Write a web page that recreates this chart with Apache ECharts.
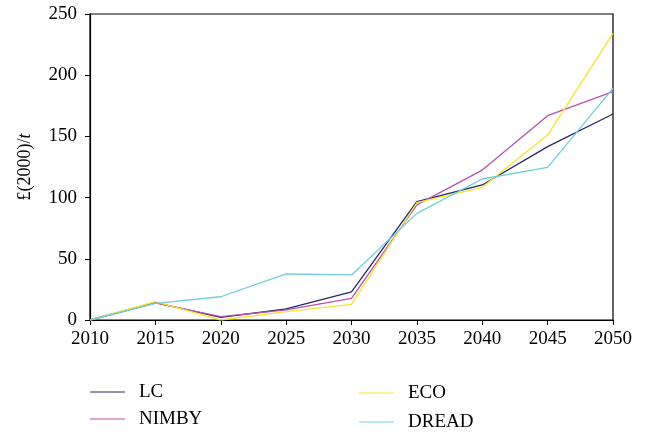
<!DOCTYPE html>
<html><head><meta charset="utf-8">
<script src="https://cdn.jsdelivr.net/npm/echarts@6/dist/echarts.min.js"></script>
<style>html,body{margin:0;padding:0;background:#fff}#c{width:647px;height:435px}</style>
</head><body><div id="c"></div>
<script>
var years = [2010, 2015, 2020, 2025, 2030, 2035, 2040, 2045, 2050];
var LC = [0, 14.2, 2.2, 9, 22.9, 96.7, 110.3, 141.6, 168.3];
var NIMBY = [0, 14, 2.7, 8.2, 17.7, 94, 122.5, 166.9, 186.5];
var ECO = [0, 15, 0, 6.8, 12.8, 95.8, 108.4, 151.1, 234.2];
var DREAD = [0, 13.6, 19, 37.6, 36.8, 87.1, 115.2, 124.7, 189.3];
var yTicks = [0, 50, 100, 150, 200, 250];
var xTicks = [2010, 2015, 2020, 2025, 2030, 2035, 2040, 2045, 2050];

function pairs(v){ return years.map(function(y,i){ return [y, v[i]]; }); }
var font = '"Liberation Serif", "DejaVu Serif", serif';
function ser(name, data, color){
  return {name:name, type:'line', data:pairs(data), symbol:'none',
    lineStyle:{color:color, width:1.3}, itemStyle:{color:color}};
}
var legText = {color:'#000', fontSize:19, lineHeight:20, fontFamily:font, padding:[0,0,0,9]};
var chart = echarts.init(document.getElementById('c'));
chart.setOption({
  animation:false,
  textStyle:{fontFamily:font},
  grid:{left:90, right:34, top:14, bottom:115, show:true, borderColor:'#000', borderWidth:1.2},
  xAxis:{type:'value', min:2010, max:2050, interval:5,
    axisLine:{lineStyle:{color:'#000', width:1.2}},
    axisTick:{show:true, length:5, lineStyle:{color:'#000'}},
    axisLabel:{color:'#000', fontSize:19, fontFamily:font, margin:10,
      formatter:function(v){ return xTicks.indexOf(v) >= 0 ? String(v) : ''; }},
    splitLine:{show:false}},
  yAxis:{type:'value', min:0, max:250, interval:50,
    name:'£(2000)/{i|t}', nameLocation:'middle', nameGap:56,
    nameTextStyle:{color:'#000', fontSize:18, fontFamily:font,
      rich:{i:{fontStyle:'italic', fontSize:18, fontFamily:font, color:'#000'}}},
    axisLine:{show:true, lineStyle:{color:'#000', width:1.2}},
    axisTick:{show:true, length:5, lineStyle:{color:'#000'}},
    axisLabel:{color:'#000', fontSize:19, fontFamily:font, margin:13,
      formatter:function(v){ return yTicks.indexOf(v) >= 0 ? String(v) : ''; }},
    splitLine:{show:false}},
  legend:[
    {data:['LC','NIMBY'], orient:'vertical', left:90, top:382, itemWidth:35, itemHeight:10, itemGap:7,
      icon:'path://M0,4L35,4L35,5.2L0,5.2Z', padding:0,
      textStyle:legText},
    {data:['ECO','DREAD'], orient:'vertical', left:359, top:383, itemWidth:35, itemHeight:10, itemGap:9,
      icon:'path://M0,4L35,4L35,5.2L0,5.2Z', padding:0,
      textStyle:legText}
  ],
  series:[
    ser('LC', LC, '#26266e'),
    ser('NIMBY', NIMBY, '#b652ae'),
    ser('ECO', ECO, '#f2e52c'),
    ser('DREAD', DREAD, '#70cdd8')
  ]
});
</script></body></html>
